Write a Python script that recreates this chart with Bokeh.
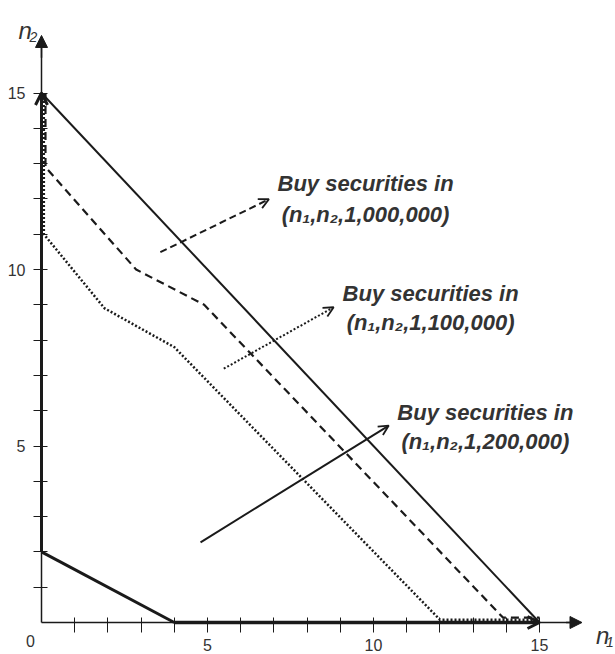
from bokeh.plotting import figure
from bokeh.models import Range1d, LinearAxis, FixedTicker, Arrow, OpenHead, NormalHead
from bokeh.core.properties import value
from bokeh.embed import file_html
from bokeh.resources import INLINE

# ---- data ----
x_ticks = list(range(1, 16))
y_ticks = list(range(1, 16))
tick_labels = {5: "5", 10: "10", 15: "15"}

budget_x = [0, 15]
budget_y = [15, 0]

frontier_1000_x = [0.12, 0.12, 2.85, 4.9, 13.9, 15.0]
frontier_1000_y = [15.0, 12.9, 10.0, 9.0, 0.14, 0.14]

frontier_1100_x = [0.07, 0.07, 1.9, 4.0, 12.0, 15.0]
frontier_1100_y = [15.0, 11.0, 8.9, 7.8, 0.08, 0.08]

frontier_1200_x = [0, 0, 4, 15]
frontier_1200_y = [15, 2, 0, 0]

arrow_start_x = [3.58, 5.49, 4.79]
arrow_start_y = [10.49, 7.19, 2.27]
arrow_end_x = [6.85, 8.80, 10.46]
arrow_end_y = [11.99, 8.93, 5.58]
arrow_dash = ["7 4", "2 2", "solid"]

label_line1 = ["Buy securities in", "Buy securities in", "Buy securities in"]
label_line2 = ["(n\u2081,n\u2082,1,000,000)", "(n\u2081,n\u2082,1,100,000)", "(n\u2081,n\u2082,1,200,000)"]
label_x = [9.76, 11.72, 13.37]
label_y1 = [12.44, 9.32, 5.95]
label_y2 = [11.56, 8.50, 5.13]

INK = "#1a1a1a"
TXT = "#333333"

W, H = 615, 654
PX_X, PX_Y = 33.2, 35.3
x0 = -41 / PX_X
y1 = 622 / PX_Y
p = figure(width=W, height=H, output_backend="svg", toolbar_location=None,
           x_axis_type=None, y_axis_type=None, min_border=0,
           x_range=Range1d(x0, x0 + W / PX_X),
           y_range=Range1d(y1 - H / PX_Y, y1))
p.outline_line_color = None
p.background_fill_color = "white"
p.border_fill_color = "white"

# axes drawn at the origin
xax = LinearAxis(fixed_location=0, ticker=FixedTicker(ticks=x_ticks),
                 major_label_overrides={t: tick_labels.get(t, "") for t in x_ticks},
                 bounds=(0, 16.1), axis_line_width=1.5, axis_line_color=INK,
                 major_tick_in=5, major_tick_out=10, major_tick_line_color=INK,
                 minor_tick_line_color=None, major_label_standoff=6,
                 major_label_text_font="Liberation Sans", major_label_text_font_size="16px",
                 major_label_text_color=TXT)
yax = LinearAxis(fixed_location=0, ticker=FixedTicker(ticks=y_ticks),
                 major_label_overrides={t: tick_labels.get(t, "") for t in y_ticks},
                 bounds=(0, 16.4), axis_line_width=1.5, axis_line_color=INK,
                 major_tick_in=6, major_tick_out=8, major_tick_line_color=INK,
                 minor_tick_line_color=None, major_label_standoff=8,
                 major_label_text_font="Liberation Sans", major_label_text_font_size="16px",
                 major_label_text_color=TXT)
p.add_layout(xax, "below")
p.add_layout(yax, "left")

# axis arrowheads
p.add_layout(Arrow(x_start=0, y_start=16.0, x_end=0, y_end=16.63, line_width=1.5, line_color=INK,
                   end=NormalHead(size=12, fill_color=INK, line_color=INK)))
p.add_layout(Arrow(x_start=15.8, y_start=0, x_end=16.28, y_end=0, line_width=1.5, line_color=INK,
                   end=NormalHead(size=12, fill_color=INK, line_color=INK)))

# origin label and axis titles
p.text(x=[-0.33], y=[-0.51], text=["0"], text_font=value("Liberation Sans"),
       text_font_size="16px", text_color=TXT, text_align="center", text_baseline="middle")
p.text(x=[-0.69, 16.70], y=[16.77, -0.37], text=["n", "n"], text_font=value("Liberation Sans"),
       text_font_style="italic", text_font_size="24px", text_color=TXT,
       text_align="left", text_baseline="alphabetic")
p.text(x=[-0.36, 17.00], y=[16.6, -0.55], text=["2", "1"], text_font=value("Liberation Sans"),
       text_font_style="italic", text_font_size="14px", text_color=TXT,
       text_align="left", text_baseline="alphabetic")

# budget line
p.line(budget_x, budget_y, line_width=2, line_color=INK)
# iso-lines
p.line(frontier_1000_x, frontier_1000_y, line_width=2.2, line_color=INK, line_dash="8 5")
p.line(frontier_1100_x, frontier_1100_y, line_width=2.5, line_color=INK, line_dash="2 2")
p.line(frontier_1200_x[1:3], frontier_1200_y[1:3], line_width=3, line_color=INK)
p.add_layout(Arrow(x_start=frontier_1200_x[1], y_start=frontier_1200_y[1],
                   x_end=frontier_1200_x[0], y_end=frontier_1200_y[0], line_width=3, line_color=INK,
                   end=OpenHead(size=12, line_width=3, line_color=INK)))
p.add_layout(Arrow(x_start=frontier_1200_x[2], y_start=frontier_1200_y[2],
                   x_end=frontier_1200_x[3], y_end=frontier_1200_y[3], line_width=3.5, line_color=INK,
                   end=OpenHead(size=12, line_width=3, line_color=INK)))

# annotation arrows
for xs, ys, xe, ye, dash in zip(arrow_start_x, arrow_start_y, arrow_end_x, arrow_end_y, arrow_dash):
    p.add_layout(Arrow(x_start=xs, y_start=ys, x_end=xe, y_end=ye, line_width=2,
                       line_color=INK, line_dash=dash,
                       end=OpenHead(size=10, line_width=1.8, line_color=INK)))

# annotation texts
p.text(x=label_x, y=label_y1, text=label_line1, text_font=value("Liberation Sans"),
       text_font_style="bold italic", text_font_size="22px", text_color=TXT,
       text_align="center", text_baseline="alphabetic")
p.text(x=label_x, y=label_y2, text=label_line2, text_font=value("Liberation Sans"),
       text_font_style="bold italic", text_font_size="22px", text_color=TXT,
       text_align="center", text_baseline="alphabetic")

open("out.html", "w").write(file_html(p, INLINE))
